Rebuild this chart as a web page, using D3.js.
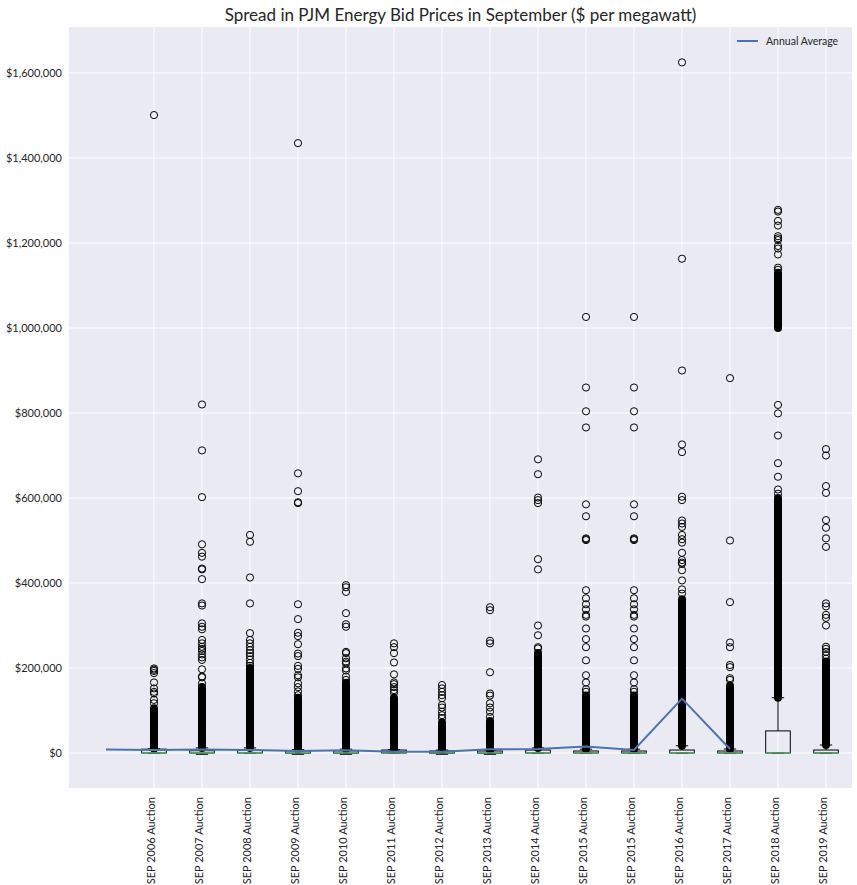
<!DOCTYPE html>
<html>
<head>
<meta charset="utf-8">
<script src="https://cdn.jsdelivr.net/npm/d3@7"></script>
<style>
  html, body { margin: 0; padding: 0; background: #ffffff; }
  svg { display: block; }
</style>
</head>
<body>
<svg id="chart" width="857" height="885"></svg>
<script>
// ---------------- data ----------------
const categories = [
  "SEP 2006 Auction", "SEP 2007 Auction", "SEP 2008 Auction", "SEP 2009 Auction",
  "SEP 2010 Auction", "SEP 2011 Auction", "SEP 2012 Auction", "SEP 2013 Auction",
  "SEP 2014 Auction", "SEP 2015 Auction", "SEP 2015 Auction", "SEP 2016 Auction",
  "SEP 2017 Auction", "SEP 2018 Auction", "SEP 2019 Auction"
];
const boxQ1      = [0, 0, 0, -500, -500, 0, -500, -500, 0, 0, 0, 0, 0, 0, 0];
const boxMedian  = [300, 300, 300, 200, 200, 300, 200, 200, 300, 300, 300, 300, 300, 300, 300];
const boxQ3      = [9000, 5400, 6000, 5000, 5000, 7000, 4700, 4700, 7000, 4700, 4700, 7000, 4700, 52000, 7000];
const whiskerLow = [0, -3000, 0, -3000, -3000, 0, -3000, -3000, 0, 0, 0, 0, 0, 0, 0];
const whiskerHigh= [10000, 12000, 12000, 8000, 9000, 8000, 7000, 7000, 12000, 9000, 9000, 17000, 9400, 130000, 18800];

// individual (visible) outliers per category
const outliers = [
  [1501000, 199000, 196000, 193000, 188000, 166000, 152000, 144000, 140000, 125000, 117000],
  [820000, 712000, 602000, 491000, 471000, 462000, 434000, 432000, 409000, 352000, 347000, 305000, 297000, 291000, 266000, 258000, 250000, 245000, 240000, 232000, 225000, 219000, 197000, 180000, 178000, 164000],
  [513000, 497000, 413000, 352000, 282000, 266000, 258000, 250000, 242000, 235000, 228000, 220000, 212000, 205000],
  [1435000, 658000, 616000, 590000, 588000, 350000, 315000, 283000, 275000, 256000, 234000, 228000, 205000, 198000, 183000, 178000, 164000, 155000, 145000, 136000],
  [395000, 390000, 379000, 329000, 303000, 297000, 238000, 235000, 223000, 215000, 211000, 199000, 194000, 180000, 172000],
  [258000, 249000, 235000, 213000, 185000, 166000, 162000, 155000, 148000, 142000],
  [160000, 152000, 144000, 136000, 129000, 113000, 107000, 97000, 89000, 82000],
  [343000, 336000, 264000, 258000, 190000, 140000, 135000, 117000, 107000, 97000, 85000],
  [691000, 656000, 601000, 595000, 588000, 456000, 432000, 300000, 277000, 249000, 246000],
  [1026000, 860000, 804000, 766000, 585000, 557000, 505000, 503000, 501000, 383000, 364000, 350000, 338000, 325000, 321000, 293000, 268000, 249000, 218000, 183000, 166000, 150000, 144000],
  [1026000, 860000, 804000, 766000, 585000, 557000, 505000, 503000, 501000, 383000, 364000, 350000, 338000, 325000, 321000, 293000, 268000, 249000, 218000, 183000, 166000, 150000, 144000],
  [1625000, 1163000, 900000, 726000, 708000, 603000, 595000, 547000, 540000, 532000, 513000, 503000, 495000, 471000, 454000, 448000, 445000, 430000, 406000, 385000, 375000],
  [882000, 500000, 355000, 260000, 249000, 207000, 202000, 176000, 172000],
  [1278000, 1274000, 1252000, 1241000, 1216000, 1211000, 1207000, 1193000, 1187000, 1173000, 1142000, 1137000, 819000, 799000, 747000, 682000, 650000, 620000, 610000],
  [715000, 700000, 628000, 612000, 548000, 530000, 505000, 485000, 352000, 345000, 325000, 318000, 300000, 250000, 245000, 238000, 230000, 222000]
];

// ranges where outliers overlap into a solid column: [category index, low, high]
const denseBands = [
  [0, 10000, 105000], [1, 12000, 155000], [2, 12000, 200000], [3, 8000, 130000],
  [4, 9000, 165000], [5, 8000, 130000], [6, 7000, 72000], [7, 7000, 75000],
  [8, 12000, 235000], [9, 9000, 135000], [10, 9000, 135000], [11, 17000, 362000],
  [12, 9400, 158000], [13, 130000, 600000], [13, 1000000, 1130000], [14, 18800, 215000]
];

// annual average line (plotted at positions 0..13)
const avgPositions = [0, 1, 2, 3, 4, 5, 6, 7, 8, 9, 10, 11, 12, 13];
const annualAverage = [8000, 7000, 8500, 7000, 4800, 6300, 3000, 3000, 8600, 9400, 15000, 7000, 128000, 9400];

const yTicks = [0, 200000, 400000, 600000, 800000, 1000000, 1200000, 1400000, 1600000];

// ---------------- layout ----------------
const svg = d3.select("#chart");
const plot = { left: 69, right: 852, top: 27, bottom: 788 };

const x = d3.scaleLinear().domain([-0.7708, 15.5417]).range([plot.left, plot.right]);
const y = d3.scaleLinear().domain([-82353, 1708235]).range([plot.bottom, plot.top]);

const FONT = "Lato, 'DejaVu Sans', sans-serif";

// background
svg.append("rect")
  .attr("x", plot.left).attr("y", plot.top)
  .attr("width", plot.right - plot.left).attr("height", plot.bottom - plot.top)
  .attr("fill", "#eaeaf2");

// grid
const g = svg.append("g");
g.selectAll("line.hgrid").data(yTicks).join("line")
  .attr("class", "hgrid")
  .attr("x1", plot.left).attr("x2", plot.right)
  .attr("y1", d => y(d)).attr("y2", d => y(d))
  .attr("stroke", "#ffffff").attr("stroke-width", 1);
g.selectAll("line.vgrid").data(categories).join("line")
  .attr("class", "vgrid")
  .attr("x1", (d, i) => x(i + 1)).attr("x2", (d, i) => x(i + 1))
  .attr("y1", plot.top).attr("y2", plot.bottom)
  .attr("stroke", "#ffffff").attr("stroke-width", 1);

// y axis
const yAxis = d3.axisLeft(y).tickValues(yTicks).tickSize(0).tickPadding(7)
  .tickFormat(d => "$" + d3.format(",")(d));
const ya = svg.append("g").attr("transform", `translate(${plot.left},0)`).call(yAxis);
ya.select(".domain").remove();
ya.selectAll("text").attr("font-family", FONT).attr("font-size", 11).attr("fill", "#262626");

// x axis
const xAxis = d3.axisBottom(x).tickValues(categories.map((d, i) => i + 1)).tickSize(0)
  .tickFormat(d => categories[d - 1]);
const xa = svg.append("g").attr("transform", `translate(0,${plot.bottom})`).call(xAxis);
xa.select(".domain").remove();
xa.selectAll("text")
  .attr("font-family", FONT).attr("font-size", 11).attr("fill", "#262626")
  .attr("text-anchor", "end")
  .attr("transform", "rotate(-90)")
  .attr("x", -9).attr("y", -3).attr("dy", "0.35em");

// boxes
const half = 12.3 / 48; // half box width in position units
const boxes = svg.append("g");
categories.forEach((c, i) => {
  const p = i + 1;
  const bg = boxes.append("g");
  // whiskers
  bg.append("line").attr("x1", x(p)).attr("x2", x(p))
    .attr("y1", y(boxQ3[i])).attr("y2", y(whiskerHigh[i])).attr("stroke", "#000").attr("stroke-width", 1);
  bg.append("line").attr("x1", x(p)).attr("x2", x(p))
    .attr("y1", y(boxQ1[i])).attr("y2", y(whiskerLow[i])).attr("stroke", "#000").attr("stroke-width", 1);
  // caps
  [whiskerHigh[i], whiskerLow[i]].forEach(v => {
    bg.append("line").attr("x1", x(p - half / 2)).attr("x2", x(p + half / 2))
      .attr("y1", y(v)).attr("y2", y(v)).attr("stroke", "#000").attr("stroke-width", 1);
  });
  // box
  bg.append("rect")
    .attr("x", x(p - half)).attr("width", x(p + half) - x(p - half))
    .attr("y", y(boxQ3[i])).attr("height", Math.max(1, y(boxQ1[i]) - y(boxQ3[i])))
    .attr("fill", "none").attr("stroke", "#000").attr("stroke-width", 1);
});

// dense outlier columns
svg.append("g").selectAll("rect").data(denseBands).join("rect")
  .attr("x", d => x(d[0] + 1) - 4).attr("width", 8)
  .attr("y", d => y(d[2]) - 4).attr("height", d => y(d[1]) - y(d[2]) + 8)
  .attr("rx", 4).attr("fill", "#000");

// outlier circles
const og = svg.append("g");
outliers.forEach((vals, i) => {
  og.selectAll(null).data(vals).join("circle")
    .attr("cx", x(i + 1)).attr("cy", d => y(d)).attr("r", 3.6)
    .attr("fill", "none").attr("stroke", "#000").attr("stroke-width", 1);
});

// medians
svg.append("g").selectAll("line").data(boxMedian).join("line")
  .attr("x1", (d, i) => x(i + 1 - half)).attr("x2", (d, i) => x(i + 1 + half))
  .attr("y1", d => y(d)).attr("y2", d => y(d))
  .attr("stroke", "#55a868").attr("stroke-width", 1.5);

// annual average line
const line = d3.line().x(d => x(d[0])).y(d => y(d[1]));
svg.append("path")
  .datum(avgPositions.map((p, i) => [p, annualAverage[i]]))
  .attr("d", line).attr("fill", "none").attr("stroke", "#4c72b0").attr("stroke-width", 2);

// legend
const lg = svg.append("g");
lg.append("line").attr("x1", 737).attr("x2", 758).attr("y1", 41).attr("y2", 41)
  .attr("stroke", "#4c72b0").attr("stroke-width", 2);
lg.append("text").attr("x", 766).attr("y", 45).text("Annual Average")
  .attr("font-family", FONT).attr("font-size", 10.5).attr("fill", "#262626");

// title
svg.append("text")
  .attr("x", (plot.left + plot.right) / 2).attr("y", 21)
  .attr("text-anchor", "middle")
  .attr("font-family", FONT).attr("font-size", 17).attr("fill", "#262626")
  .text("Spread in PJM Energy Bid Prices in September ($ per megawatt)");
</script>
</body>
</html>
